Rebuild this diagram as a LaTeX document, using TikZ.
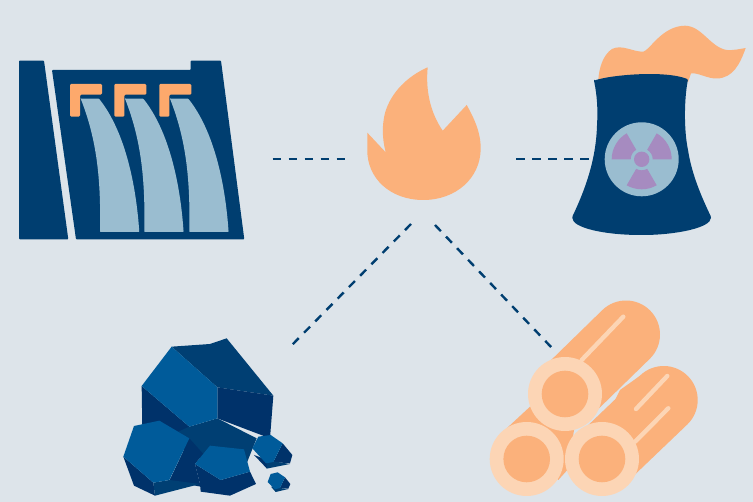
\documentclass[tikz,border=0pt]{standalone}
\definecolor{bgc}{HTML}{DDE4EA}
\definecolor{navy}{HTML}{003E70}
\definecolor{water}{HTML}{9ABDD0}
\definecolor{flame}{HTML}{FBB17B}
\definecolor{gate}{HTML}{FDA96C}
\definecolor{ringc}{HTML}{FCD5B5}
\definecolor{purp}{HTML}{A68BC0}
\definecolor{coalL}{HTML}{005B9A}
\definecolor{coalM}{HTML}{003F73}
\definecolor{coalD}{HTML}{00326A}
\tikzset{
  link/.style={draw=navy,line width=2.4pt,dash pattern=on 8.5pt off 7.5pt},
  logbody/.style={draw=flame,line width=68pt,line cap=round},
  streak/.style={draw=ringc,line width=4.4pt,line cap=round},
}
\begin{document}
\begin{tikzpicture}[x=1pt,y=-1pt]
\useasboundingbox (0,0) rectangle (753,502);
\fill[bgc] (0,0) rectangle (753,502);
% links
\coordinate (fireL) at (345.5,159); \coordinate (damR) at (272.5,159);
\coordinate (fireR) at (516,159); \coordinate (towerL) at (590,159);
\coordinate (fireBL) at (411,224); \coordinate (coalT) at (292,345);
\coordinate (fireBR) at (435,225); \coordinate (logT) at (552,348);
\draw[link] (damR) -- (fireL);
\draw[link] (fireR) -- (towerL);
\draw[link] (fireBL) -- (coalT);
\draw[link] (fireBR) -- (logT);
% dam
\fill[navy,rounded corners=0.8pt] (19,60.7) -- (44,60.7) -- (68.3,239.3) -- (19,239.3) -- cycle;
\fill[navy,rounded corners=0.8pt] (52,70) -- (190.7,70) -- (190.7,60.7) -- (221,60.7) -- (244.3,239.3) -- (76,239.3) -- cycle;
\foreach \d in {0,44.3,89.3}{
  \begin{scope}[xshift=\d pt]
  \fill[water,rounded corners=0.6pt] (80.7,98.7) -- (99,98.7) .. controls (120,125) and (135,170) .. (139.3,232) -- (100,232) .. controls (101,180) and (97,140) .. cycle;
  \fill[gate,rounded corners=1.2pt] (70,84) -- (102,84) -- (102,94.7) -- (80,94.7) -- (80,116.7) -- (70,116.7) -- cycle;
  \end{scope}
}
% flame
\fill[flame] (427.7,67.3) .. controls (425.5,90) and (430,112) .. (442.7,130.7)
  -- (466.7,105) .. controls (474,118) and (480.7,132) .. (480.7,148.3)
  .. controls (480.7,178) and (456,200) .. (423.3,200)
  .. controls (390,200) and (367,178) .. (367.3,150)
  -- (367.3,132.7) -- (385.7,152.3)
  .. controls (382,138) and (382,125) .. (385,113)
  .. controls (391,92) and (408,76) .. cycle;
% smoke
\fill[flame] (598.3,80) .. controls (599,68) and (603,55) .. (612,49)
  .. controls (622,44) and (633,52) .. (643.3,51.7)
  .. controls (650,50) and (662,26) .. (685,25.7)
  .. controls (702,26) and (710,47) .. (726.7,50)
  .. controls (733,50.5) and (740,49) .. (745.7,48)
  .. controls (740,64) and (733,78) .. (717,78.5)
  .. controls (708,79) and (697,72) .. (691,73.5)
  -- (688,82) -- cycle;
% tower
\fill[navy,rounded corners=1pt] (594,80.7) .. controls (610,75) and (665,70) .. (688,79.3)
  .. controls (684,100) and (684,130) .. (688,150)
  .. controls (692,175) and (702,198) .. (711,216.7)
  .. controls (711,228) and (675,235) .. (641.7,235)
  .. controls (605,235) and (572,228) .. (572.3,216.7)
  .. controls (585,190) and (596,160) .. (597,125)
  .. controls (598,110) and (597,95) .. cycle;
\coordinate (rad) at (641.7,159.3);
\fill[water] (rad) circle[radius=37];
\fill[purp] (rad) circle[radius=7.7];
\foreach \a in {0,120,240}{
  \fill[purp] ([shift={(-\a:11)}]rad) arc[start angle=-\a,end angle=-\a-60,radius=11] -- ([shift={(-\a-60:30)}]rad) arc[start angle=-\a-60,end angle=-\a,radius=30] -- cycle;
}
% coal
\begin{scope}[shift={(110,330)},x=0.33333pt,y=-0.33333pt]
\fill[coalD] (95,168) -- (238,290) -- (300,400) -- (97,300) -- cycle;
\fill[coalM] (185,50) -- (300,42) -- (350,25) -- (490,197) -- (322,172) -- cycle;
\fill[coalD] (322,172) -- (490,197) -- (480,325) -- (322,265) -- cycle;
\fill[coalM] (322,265) -- (440,325) -- (410,400) -- (280,380) -- (238,325) -- (205,305) -- (238,290) -- cycle;
\fill[coalL] (185,50) -- (322,172) -- (322,265) -- (238,290) -- (95,168) -- cycle;
% lower left
\fill[coalD] (238,325) -- (280,372) -- (255,402) -- (272,470) -- (178,452) -- cycle;
\fill[coalD] (40,380) -- (130,458) -- (135,497) -- (72,467) -- cycle;
\fill[coalM] (130,458) -- (178,450) -- (270,462) -- (135,497) -- cycle;
\fill[coalL] (72,288) -- (148,272) -- (238,325) -- (178,450) -- (130,458) -- (40,380) -- cycle;
% middle
\fill[coalD] (255,402) -- (332,450) -- (420,425) -- (438,462) -- (360,497) -- (272,485) -- (270,462) -- cycle;
\fill[coalL] (300,347) -- (402,358) -- (420,425) -- (332,450) -- (255,402) -- cycle;
% small rock
\fill[coalD] (518,340) -- (547,375) -- (540,400) -- (490,396) -- cycle;
\fill[coalD] (432,375) -- (470,415) -- (490,396) -- cycle;
\fill[coalM] (470,398) -- (490,394) -- (540,402) -- (470,416) -- cycle;
\fill[coalL] (445,320) -- (482,315) -- (518,340) -- (490,396) -- (468,400) -- (427,355) -- cycle;
% tiny rock
\fill[coalD] (525,442) -- (541,462) -- (535,476) -- (510,474) -- cycle;
\fill[coalM] (483,470) -- (510,474) -- (535,477) -- (497,486) -- cycle;
\fill[coalL] (482,432) -- (503,427) -- (525,442) -- (510,474) -- (495,478) -- (473,456) -- cycle;
\end{scope}
% logs
\coordinate (logA) at (526.7,459);
\coordinate (logB) at (565,394);
\coordinate (logC) at (602,459);
\coordinate (endB) at (626,334.5);
\coordinate (endC) at (663.7,400);
\draw[logbody] (logB) -- (endB);
\draw[logbody] (logC) -- (endC);
\fill[flame] (639.7,376) -- (620,390) -- (600,430) -- (663.7,400) -- cycle;
\fill[flame] (530,406.7) -- (506.7,428.3) -- (558.3,480) -- (567.3,470) -- (580,395) -- cycle;
\draw[streak] (581.7,360) -- (623.3,316.7);
\draw[streak] (636,409) -- (667.3,376);
\draw[streak] (635,441.7) -- (668.3,408.3);
\foreach \c in {logA,logB,logC}{
  \fill[ringc] (\c) circle[radius=37];
  \fill[flame] (\c) circle[radius=23.3];
}
\end{tikzpicture}
\end{document}
